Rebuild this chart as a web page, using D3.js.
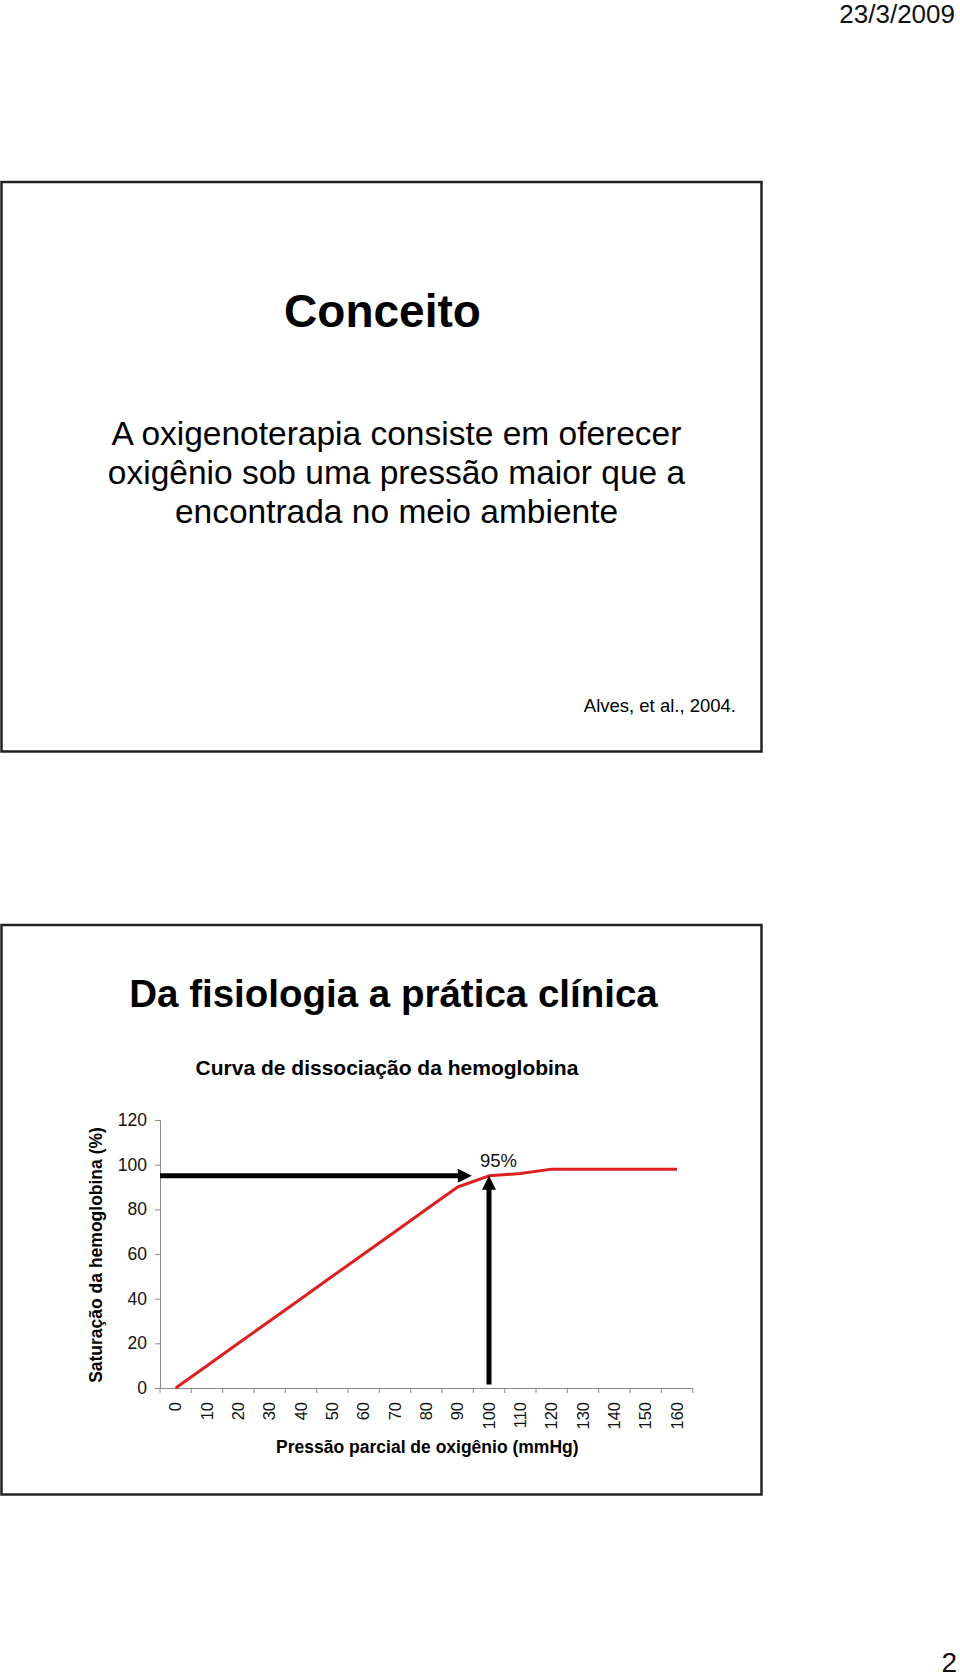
<!DOCTYPE html>
<html>
<head>
<meta charset="utf-8">
<script src="https://cdn.jsdelivr.net/npm/d3@7"></script>
<style>
html,body{margin:0;padding:0;background:#fff;}
svg{display:block;font-family:"Liberation Sans",Arial,sans-serif;}
</style>
</head>
<body>
<svg id="page" width="960" height="1680"></svg>
<script>
// ---- data ----
const pressures = [0,10,20,30,40,50,60,70,80,90,100,110,120,130,140,150,160];
const saturation = [0,10,20,30,40,50,60,70,80,90,95,96,98,98,98,98,98];
const yTicks = [0,20,40,60,80,100,120];
const xTickLabels = pressures.map(String);
const bodyLines = ["A oxigenoterapia consiste em oferecer","oxigênio sob uma pressão maior que a","encontrada no meio ambiente"];
const arrowH = {y:95, fromX:-5, toX:94.5};   // horizontal arrow (saturation level, mmHg range)
const arrowV = {x:100, fromY:1.6, toY:95};   // vertical arrow
const annotation = {label:"95%", x:100, y:95};

const svg = d3.select("#page");

// ---- header / footer ----
svg.append("text").attr("x",955).attr("y",23).attr("text-anchor","end")
  .attr("font-size",26).attr("fill","#111").text("23/3/2009");
svg.append("text").attr("x",957).attr("y",1672).attr("text-anchor","end")
  .attr("font-size",28).attr("fill","#111").text("2");

// ---- slide 1 ----
svg.append("rect").attr("x",1.5).attr("y",182).attr("width",760).attr("height",569.5)
  .attr("fill","none").attr("stroke","#222").attr("stroke-width",2.5);
svg.append("text").attr("x",382.5).attr("y",326.5).attr("text-anchor","middle")
  .attr("font-size",46).attr("font-weight","bold").attr("fill","#000").text("Conceito");
svg.selectAll("text.body").data(bodyLines).join("text").attr("class","body")
  .attr("x",396.5).attr("y",(d,i)=>445+i*39).attr("text-anchor","middle")
  .attr("font-size",33.5).attr("fill","#000").text(d=>d);
svg.append("text").attr("x",736).attr("y",711.5).attr("text-anchor","end")
  .attr("font-size",18.5).attr("fill","#000").text("Alves, et al., 2004.");

// ---- slide 2 ----
svg.append("rect").attr("x",1.5).attr("y",925).attr("width",760).attr("height",569.5)
  .attr("fill","none").attr("stroke","#222").attr("stroke-width",2.5);
svg.append("text").attr("x",393.5).attr("y",1006.5).attr("text-anchor","middle")
  .attr("font-size",38.5).attr("font-weight","bold").attr("fill","#000").text("Da fisiologia a prática clínica");
svg.append("text").attr("x",387).attr("y",1075).attr("text-anchor","middle")
  .attr("font-size",21).attr("font-weight","bold").attr("fill","#000").text("Curva de dissociação da hemoglobina");

// chart geometry
const pLeft = 160, pRight = 692.7, pTop = 1120, pBottom = 1388;
const x = d3.scaleBand().domain(pressures).range([pLeft,pRight]).paddingInner(0).paddingOuter(0);
const bw = x.bandwidth();
const xc = v => x(v) + bw/2;
// linear helper in mmHg units, consistent with band centres
const xl = d3.scaleLinear().domain([-5, 165]).range([pLeft, pRight]);
const y = d3.scaleLinear().domain([0,120]).range([pBottom, pTop]);

const gY = svg.append("g").attr("transform",`translate(${pLeft},0)`)
  .call(d3.axisLeft(y).tickValues(yTicks).tickSize(5).tickPadding(8));
gY.select(".domain").attr("stroke","#8a8a8a").attr("stroke-width",1);
gY.selectAll(".tick line").attr("stroke","#8a8a8a");
gY.selectAll(".tick text").attr("font-size",17.5).attr("fill","#111").attr("font-family","Liberation Sans, Arial, sans-serif");

const gX = svg.append("g").attr("transform",`translate(0,${pBottom})`)
  .call(d3.axisBottom(x).tickValues([]).tickSizeOuter(0));
gX.select(".domain").attr("stroke","#8a8a8a").attr("stroke-width",1);
// boundary ticks
const bounds = pressures.map(p=>x(p)).concat([pRight]);
gX.selectAll("line.bt").data(bounds).join("line").attr("class","bt")
  .attr("x1",d=>d).attr("x2",d=>d).attr("y1",0).attr("y2",5).attr("stroke","#8a8a8a");
gX.selectAll("text.xl").data(xTickLabels).join("text").attr("class","xl")
  .attr("transform",(d,i)=>`translate(${xc(pressures[i])},14) rotate(-90)`)
  .attr("text-anchor","end").attr("dy","0.35em")
  .attr("font-size",16.5).attr("fill","#111").text(d=>d);

// axis titles
svg.append("text").attr("transform",`translate(102,${(pTop+pBottom)/2 + 1}) rotate(-90)`)
  .attr("text-anchor","middle").attr("font-size",17.5).attr("font-weight","bold").attr("fill","#000")
  .text("Saturação da hemoglobina (%)");
svg.append("text").attr("x",(pLeft+pRight)/2+1).attr("y",1453).attr("text-anchor","middle")
  .attr("font-size",17.5).attr("font-weight","bold").attr("fill","#000")
  .text("Pressão parcial de oxigênio (mmHg)");

// red curve
const line = d3.line().x((d,i)=>xc(pressures[i])).y(d=>y(d));
svg.append("path").datum(saturation).attr("d",line)
  .attr("fill","none").attr("stroke","#dc1f1f").attr("stroke-width",3).attr("stroke-linejoin","round");

// arrows
const headLen = 14, headHalf = 7, lw = 5;
{
  const yy = y(arrowH.y), x0 = xl(arrowH.fromX), x1 = xl(arrowH.toX);
  svg.append("line").attr("x1",x0).attr("x2",x1-headLen+1).attr("y1",yy).attr("y2",yy)
    .attr("stroke","#000").attr("stroke-width",lw);
  svg.append("path").attr("d",`M${x1},${yy} L${x1-headLen},${yy-headHalf} L${x1-headLen},${yy+headHalf} Z`).attr("fill","#000");
}
{
  const xx = xc(arrowV.x), y0 = y(arrowV.fromY), y1 = y(arrowV.toY);
  svg.append("line").attr("x1",xx).attr("x2",xx).attr("y1",y0).attr("y2",y1+headLen-1)
    .attr("stroke","#000").attr("stroke-width",lw);
  svg.append("path").attr("d",`M${xx},${y1} L${xx-headHalf},${y1+headLen} L${xx+headHalf},${y1+headLen} Z`).attr("fill","#000");
}
svg.append("text").attr("x",xc(annotation.x)-9).attr("y",y(annotation.y)-9)
  .attr("font-size",18.5).attr("fill","#111").text(annotation.label);
</script>
</body>
</html>
